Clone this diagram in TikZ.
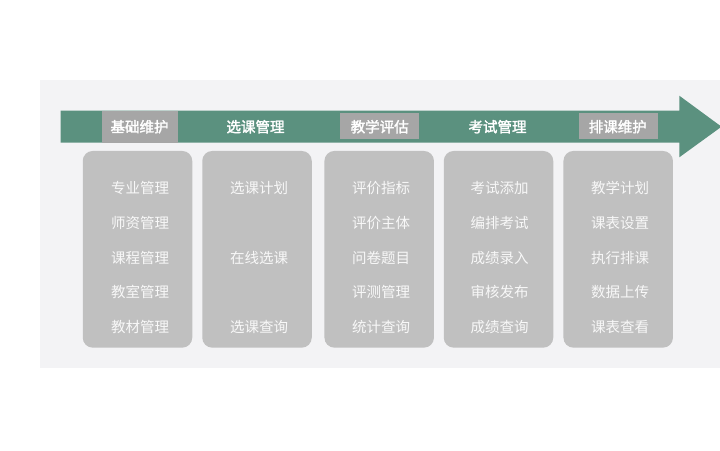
\documentclass[tikz,border=0pt]{standalone}
\usepackage{fontspec}
\setmainfont{Noto Sans CJK SC}[AutoFakeBold=2]
\usepackage{tikz}
\definecolor{bg_grey}{RGB}{243, 243, 245}
\definecolor{band_green}{RGB}{91, 145, 127}
\definecolor{tag_grey}{RGB}{166, 166, 166}
\definecolor{col_grey}{RGB}{192, 192, 192}
\definecolor{txt_white}{RGB}{248, 248, 248}
\tikzstyle{col}=[rectangle,rounded corners=10pt,fill=col_grey,draw=none,
  minimum width=109.5pt,minimum height=196.7pt,inner sep=0pt]
\tikzstyle{tag}=[rectangle,fill=tag_grey,draw=none,inner sep=0pt,
  minimum width=79pt,minimum height=26pt]
\tikzstyle{hd}=[text=white,font=\fontsize{14.5}{16}\selectfont\bfseries,inner sep=0pt]
\tikzstyle{item}=[text=txt_white,font=\fontsize{14.5}{16}\selectfont,inner sep=0pt]
\tikzstyle{none}=[]

\begin{document}
\begin{tikzpicture}[x=1pt, y=-1pt]
    \useasboundingbox (0, 0) rectangle (720, 450);
    \fill [bg_grey] (40, 79.5) rectangle (720, 368);
    \fill [band_green] (60.7, 110.7) -- (679.3, 110.7) -- (679.3, 95.7) -- (721.5, 126.7)
        -- (679.3, 157.3) -- (679.3, 142.7) -- (60.7, 142.7) -- cycle;
    \node [style=tag, minimum width=76.6pt, minimum height=32pt] (0) at (140, 126.7) {};
    \node [style=tag] (1) at (379.7, 126.3) {};
    \node [style=tag] (2) at (618.3, 126.3) {};
    \node [style=hd] (3) at (139.5, 126.7) {基础维护};
    \node [style=hd] (4) at (255.5, 126.7) {选课管理};
    \node [style=hd] (5) at (379.7, 126.7) {教学评估};
    \node [style=hd] (6) at (497.5, 126.7) {考试管理};
    \node [style=hd] (7) at (617.8, 126.7) {排课维护};
    \node [style=col] (8) at (137.5, 249.3) {};
    \node [style=col] (9) at (257, 249.3) {};
    \node [style=col] (10) at (379.2, 249.3) {};
    \node [style=col] (11) at (498.5, 249.3) {};
    \node [style=col] (12) at (618.2, 249.3) {};
    \node [style=item] (13) at (140, 188) {专业管理};
    \node [style=item] (14) at (140, 223) {师资管理};
    \node [style=item] (15) at (140, 258) {课程管理};
    \node [style=item] (16) at (140, 292) {教室管理};
    \node [style=item] (17) at (140, 327) {教材管理};
    \node [style=item] (18) at (259, 188) {选课计划};
    \node [style=item] (19) at (259, 258) {在线选课};
    \node [style=item] (20) at (259, 327) {选课查询};
    \node [style=item] (21) at (381, 188) {评价指标};
    \node [style=item] (22) at (381, 223) {评价主体};
    \node [style=item] (23) at (381, 258) {问卷题目};
    \node [style=item] (24) at (381, 292) {评测管理};
    \node [style=item] (25) at (381, 327) {统计查询};
    \node [style=item] (26) at (499.5, 188) {考试添加};
    \node [style=item] (27) at (499.5, 223) {编排考试};
    \node [style=item] (28) at (499.5, 258) {成绩录入};
    \node [style=item] (29) at (499.5, 292) {审核发布};
    \node [style=item] (30) at (499.5, 327) {成绩查询};
    \node [style=item] (31) at (620, 188) {教学计划};
    \node [style=item] (32) at (620, 223) {课表设置};
    \node [style=item] (33) at (620, 258) {执行排课};
    \node [style=item] (34) at (620, 292) {数据上传};
    \node [style=item] (35) at (620, 327) {课表查看};
\end{tikzpicture}
\end{document}
